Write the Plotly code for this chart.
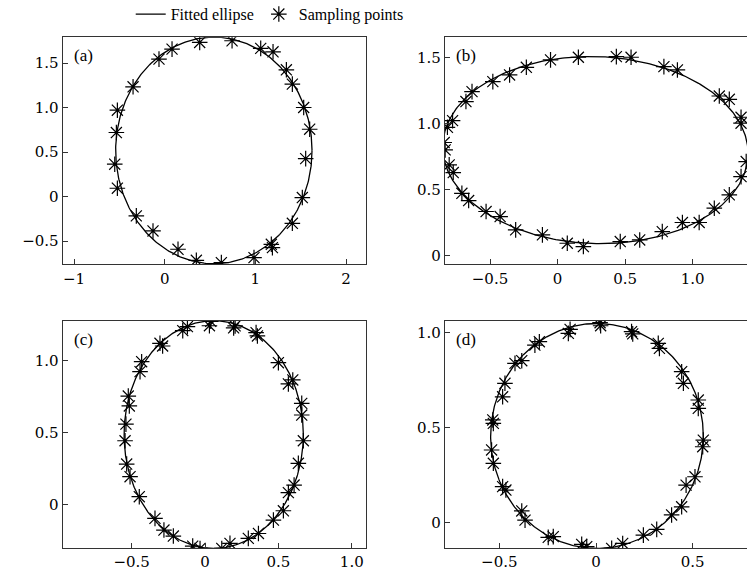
import numpy as np
import plotly.graph_objects as go

# ---------------- data ----------------
panel_labels = ["(a)", "(b)", "(c)", "(d)"]
legend_names = ["Fitted ellipse", "Sampling points"]

# fitted ellipse parameters per panel (centre, semi-axes, rotation in rad)
ellipse_cx = [0.542, 0.280, 0.059, 0.005]
ellipse_cy = [0.519, 0.798, 0.488, 0.455]
ellipse_rx = [1.083, 1.130, 0.611, 0.550]
ellipse_ry = [1.273, 0.707, 0.792, 0.592]
ellipse_ang = [0.0, -0.035, 0.0, 0.0]

# sampling points
a_x = [0.386, 0.743, 0.081, -0.063, -0.349, -0.522, -0.533, -0.551, -0.522, -0.313,
       -0.129, 0.147, 0.349, 0.625, 0.985, 1.176, 1.188, 1.408, 1.518, 1.555,
       1.599, 1.533, 1.408, 1.342, 1.195, 1.059]
a_y = [1.732, 1.751, 1.657, 1.545, 1.234, 0.971, 0.720, 0.364, 0.094, -0.217,
       -0.386, -0.592, -0.716, -0.742, -0.686, -0.536, -0.574, -0.300, -0.011, 0.427,
       0.757, 1.001, 1.264, 1.425, 1.627, 1.665]

b_x = [-0.777, -0.815, -0.839, -0.832, -0.802, -0.772, -0.708, -0.658, -0.529, -0.425,
       -0.310, -0.112, 0.072, 0.191, 0.464, 0.608, 0.775, 0.924, 1.048, 1.160,
       1.271, 1.358, 1.396, 1.358, 1.358, 1.271, 1.197, 0.887, 0.787, 0.544,
       0.435, 0.154, -0.052, -0.231, -0.355, -0.479, -0.633, -0.678]
b_y = [1.021, 0.970, 0.855, 0.799, 0.686, 0.628, 0.471, 0.416, 0.333, 0.295,
       0.194, 0.156, 0.093, 0.068, 0.106, 0.118, 0.181, 0.250, 0.250, 0.358,
       0.459, 0.597, 0.711, 1.001, 1.046, 1.182, 1.207, 1.404, 1.429, 1.500,
       1.505, 1.500, 1.480, 1.424, 1.366, 1.316, 1.240, 1.165]

c_x = [0.039, 0.030, -0.120, -0.152, 0.205, 0.195, 0.348, 0.357, -0.307, -0.289,
       -0.432, -0.443, -0.523, -0.516, -0.539, -0.545, -0.534, -0.511, -0.448, -0.341,
       -0.280, -0.216, -0.084, -0.034, 0.114, 0.170, 0.295, 0.364, 0.466, 0.534,
       0.568, 0.607, 0.636, 0.670, 0.659, 0.659, 0.598, 0.568, 0.500]
c_y = [1.276, 1.245, 1.239, 1.211, 1.244, 1.230, 1.197, 1.174, 1.123, 1.104,
       0.995, 0.926, 0.756, 0.687, 0.561, 0.445, 0.283, 0.195, 0.056, -0.095,
       -0.176, -0.218, -0.288, -0.304, -0.304, -0.269, -0.234, -0.200, -0.107, -0.042,
       0.084, 0.137, 0.288, 0.445, 0.624, 0.705, 0.868, 0.840, 0.988]

d_x = [0.021, 0.024, -0.134, -0.143, 0.184, 0.190, 0.322, 0.328, -0.293, -0.316,
       -0.384, -0.419, -0.471, -0.483, -0.534, -0.531, -0.540, -0.531, -0.483, -0.466,
       -0.384, -0.367, -0.247, -0.221, -0.074, -0.048, 0.081, 0.138, 0.245, 0.314,
       0.391, 0.443, 0.466, 0.512, 0.552, 0.555, 0.529, 0.529, 0.452, 0.443]
d_y = [1.051, 1.035, 1.016, 0.995, 1.004, 0.992, 0.942, 0.916, 0.951, 0.933,
       0.851, 0.837, 0.732, 0.661, 0.539, 0.521, 0.381, 0.311, 0.188, 0.170,
       0.060, 0.012, -0.079, -0.075, -0.116, -0.128, -0.137, -0.111, -0.067, -0.037,
       0.039, 0.082, 0.196, 0.240, 0.398, 0.433, 0.600, 0.644, 0.732, 0.793]

points_x = [a_x, b_x, c_x, d_x]
points_y = [a_y, b_y, c_y, d_y]

x_ranges = [[-1.125, 2.217], [-0.833, 1.402], [-0.970, 1.095], [-0.781, 0.781]]
y_ranges = [[-0.762, 1.790], [-0.067, 1.651], [-0.301, 1.278], [-0.135, 1.060]]

x_tickvals = [[-1, 0, 1, 2], [-0.5, 0, 0.5, 1.0], [-0.5, 0, 0.5, 1.0], [-0.5, 0, 0.5]]
x_ticktext = [["\u22121", "0", "1", "2"], ["\u22120.5", "0", "0.5", "1.0"],
              ["\u22120.5", "0", "0.5", "1.0"], ["\u22120.5", "0", "0.5"]]
y_tickvals = [[-0.5, 0, 0.5, 1.0, 1.5], [0, 0.5, 1.0, 1.5], [0, 0.5, 1.0], [0, 0.5, 1.0]]
y_ticktext = [["\u22120.5", "0", "0.5", "1.0", "1.5"], ["0", "0.5", "1.0", "1.5"],
              ["0", "0.5", "1.0"], ["0", "0.5", "1.0"]]

# ---------------- layout geometry ----------------
W, H = 747, 575
x_domains = [[62.7 / W, 365.7 / W], [445 / W, 1.0], [62.7 / W, 365.7 / W], [445 / W, 1.0]]
y_domains = [[1 - 264.4 / H, 1 - 37.3 / H], [1 - 264.4 / H, 1 - 37.3 / H],
             [1 - 548 / H, 1 - 321 / H], [1 - 548 / H, 1 - 321 / H]]

TICKFONT = "DejaVu Serif"
TEXTFONT = "Liberation Serif"
fig = go.Figure()
t = np.linspace(0, 2 * np.pi, 400)

for i in range(4):
    sx = "" if i == 0 else str(i + 1)
    cx, cy, rx, ry, th = ellipse_cx[i], ellipse_cy[i], ellipse_rx[i], ellipse_ry[i], ellipse_ang[i]
    ex = cx + rx * np.cos(t) * np.cos(th) - ry * np.sin(t) * np.sin(th)
    ey = cy + rx * np.cos(t) * np.sin(th) + ry * np.sin(t) * np.cos(th)
    fig.add_trace(go.Scatter(x=ex, y=ey, mode="lines", name=legend_names[0],
                             line=dict(color="black", width=1.3),
                             xaxis="x" + sx, yaxis="y" + sx, showlegend=(i == 0),
                             hoverinfo="skip"))
    fig.add_trace(go.Scatter(x=points_x[i], y=points_y[i], mode="markers", name=legend_names[1],
                             marker=dict(symbol="asterisk-open", size=13, color="black",
                                         line=dict(color="black", width=1.2)),
                             xaxis="x" + sx, yaxis="y" + sx, showlegend=(i == 0)))

    right_side = i in (1, 3)
    common = dict(showgrid=False, zeroline=False, showline=True, linecolor="#333333",
                  linewidth=1.2, ticks="inside", ticklen=5, tickcolor="#333333",
                  tickfont=dict(family=TICKFONT, size=15, color="black"), automargin=False)
    fig.layout["xaxis" + sx] = dict(domain=x_domains[i], range=x_ranges[i],
                                    anchor="y" + sx, mirror=True,
                                    tickmode="array", tickvals=x_tickvals[i],
                                    ticktext=x_ticktext[i], **common)
    fig.layout["yaxis" + sx] = dict(domain=y_domains[i], range=y_ranges[i],
                                    anchor="x" + sx, mirror=(not right_side),
                                    tickmode="array", tickvals=y_tickvals[i],
                                    ticktext=y_ticktext[i], **common)
    fig.add_annotation(text=panel_labels[i], xref="x" + sx + " domain", yref="y" + sx + " domain",
                       x=0.03, y=0.97, xanchor="left", yanchor="top",
                       showarrow=False, font=dict(family=TEXTFONT, size=17, color="black"))

fig.update_layout(
    width=W, height=H,
    margin=dict(l=0, r=0, t=0, b=0, autoexpand=False),
    paper_bgcolor="white", plot_bgcolor="white",
    legend=dict(orientation="h", x=0.175, y=1.005, xanchor="left", yanchor="top",
                font=dict(family=TEXTFONT, size=16, color="black"), bgcolor="rgba(0,0,0,0)",
                itemwidth=30),
    font=dict(family=TEXTFONT, size=16, color="black"),
)

fig.write_html("out.html")
